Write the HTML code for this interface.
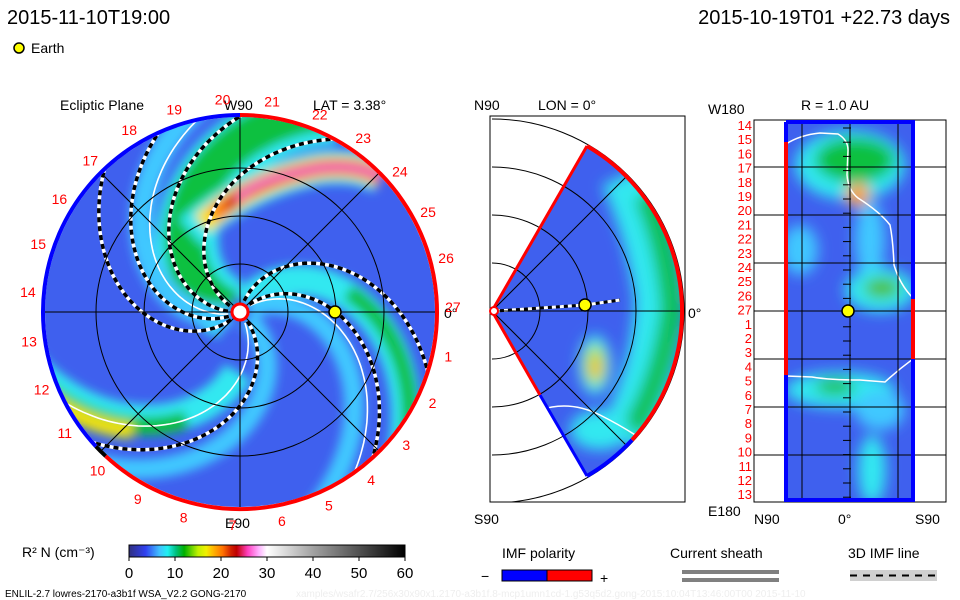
<!DOCTYPE html>
<html><head><meta charset="utf-8"><style>
body{margin:0;background:#fff;width:960px;height:600px;overflow:hidden;font-family:"Liberation Sans",sans-serif}
svg{display:block}
</style></head><body>
<svg id="s" width="960" height="600" viewBox="0 0 960 600" xmlns="http://www.w3.org/2000/svg">
<defs>
<filter id="bl" x="-30%" y="-30%" width="160%" height="160%"><feGaussianBlur stdDeviation="5"/></filter>
<filter id="bl2" x="-50%" y="-50%" width="200%" height="200%"><feGaussianBlur stdDeviation="7"/></filter>
<clipPath id="cc"><circle cx="240" cy="312" r="195"/></clipPath>
<clipPath id="wc"><path d="M492,311 L587,146 A191,191 0 0 1 587,476 Z"/></clipPath>
<clipPath id="mbox"><rect x="490" y="116" width="195" height="386"/></clipPath>
<clipPath id="rc"><rect x="786" y="122" width="127" height="378"/></clipPath>
<linearGradient id="cb" x1="0" x2="1" y1="0" y2="0">
<stop offset="0" stop-color="#303080"/><stop offset="0.06" stop-color="#3040f0"/><stop offset="0.11" stop-color="#40c0ff"/><stop offset="0.14" stop-color="#20f0f0"/><stop offset="0.17" stop-color="#00c080"/><stop offset="0.2" stop-color="#00b000"/><stop offset="0.25" stop-color="#c0f000"/><stop offset="0.28" stop-color="#f0f000"/><stop offset="0.3" stop-color="#ffc000"/><stop offset="0.34" stop-color="#ff7000"/><stop offset="0.37" stop-color="#d02000"/><stop offset="0.39" stop-color="#c00000"/><stop offset="0.43" stop-color="#ff40c0"/><stop offset="0.47" stop-color="#ffb0ff"/><stop offset="0.5" stop-color="#ffffff"/><stop offset="0.67" stop-color="#a0a0a0"/><stop offset="1" stop-color="#000000"/>
</linearGradient>
</defs>

<text x="7" y="24" font-size="20" fill="#000">2015-11-10T19:00</text>
<text x="950" y="24" font-size="20" fill="#000" text-anchor="end">2015-10-19T01 +22.73 days</text>
<circle cx="19" cy="48" r="5" fill="#ffff00" stroke="#000" stroke-width="1.5"/>
<text x="31" y="53" font-size="14">Earth</text>

<!-- LEFT PANEL -->
<text x="60" y="110" font-size="14">Ecliptic Plane</text>
<text x="313" y="110" font-size="14">LAT = 3.38°</text>
<text x="224" y="110" font-size="14">W90</text>
<text x="225" y="528" font-size="14">E90</text>
<text x="444" y="318" font-size="14">0°</text>
<g clip-path="url(#cc)">
<rect x="40" y="110" width="400" height="410" fill="#3f60ee"/>
<g id="bands" filter="url(#bl)"></g>
<g id="arms"></g>
</g>
<g id="grid"></g>
<g id="rim"></g>
<g id="lbls"></g>

<!-- MIDDLE PANEL -->
<rect x="490" y="116" width="195" height="386" fill="none" stroke="#000" stroke-width="1"/>
<text x="474" y="110" font-size="14">N90</text>
<text x="538" y="110" font-size="14">LON = 0°</text>
<text x="474" y="524" font-size="14">S90</text>
<text x="688" y="318" font-size="14">0°</text>
<g clip-path="url(#wc)">
<rect x="490" y="140" width="200" height="340" fill="#3f60ee"/>
<g filter="url(#bl2)">
<path d="M625,175 Q652,235 660,300 Q655,380 622,440" stroke="#30e8f0" stroke-width="50" fill="none"/>
<path d="M645,195 Q668,250 672,310 Q662,380 632,430" stroke="#10c050" stroke-width="22" fill="none"/>
<ellipse cx="595" cy="365" rx="16" ry="30" fill="#30e8f0"/>
<ellipse cx="595" cy="365" rx="10" ry="20" fill="#c0e020"/>
<ellipse cx="596" cy="368" rx="5" ry="10" fill="#ffb000"/>
<ellipse cx="600" cy="430" rx="30" ry="20" fill="#30e8f0"/>
</g>
<path d="M540,410 Q570,400 600,415 Q620,425 640,438" stroke="#fff" stroke-width="1.5" fill="none"/>
<path d="M496,311 L585,305 L620,300" stroke="#000" stroke-width="3" fill="none"/>
<path d="M496,311 L585,305 L620,300" stroke="#fff" stroke-width="3" stroke-dasharray="4 4" fill="none"/>
</g>
<g id="mgrid" clip-path="url(#mbox)"></g>
<path d="M587,146 A191,191 0 0 1 632,440" stroke="#f00" stroke-width="4" fill="none"/>
<path d="M632,440 A191,191 0 0 1 587,476" stroke="#00f" stroke-width="4" fill="none"/>
<path d="M492,311 L587,146" stroke="#f00" stroke-width="3" fill="none"/>
<path d="M492,311 L540,395" stroke="#f00" stroke-width="3" fill="none"/>
<path d="M540,395 L587,476" stroke="#00f" stroke-width="3" fill="none"/>
<circle cx="494" cy="311" r="4" fill="#fff" stroke="#f00" stroke-width="2"/>
<circle cx="585" cy="305" r="6" fill="#ffff00" stroke="#000" stroke-width="1.5"/>

<!-- RIGHT PANEL -->
<text x="801" y="110" font-size="14">R = 1.0 AU</text>
<text x="708" y="114" font-size="14">W180</text>
<text x="708" y="516" font-size="14">E180</text>
<text x="754" y="524" font-size="14">N90</text>
<text x="838" y="524" font-size="14">0°</text>
<text x="915" y="524" font-size="14">S90</text>
<rect x="754" y="120" width="192" height="382" fill="none" stroke="#000" stroke-width="1"/>
<g clip-path="url(#rc)">
<rect x="780" y="115" width="140" height="390" fill="#3f60ee"/>
<g filter="url(#bl2)">
<ellipse cx="850" cy="165" rx="55" ry="35" fill="#30e8f0"/>
<ellipse cx="855" cy="160" rx="40" ry="22" fill="#10c040"/>
<ellipse cx="858" cy="195" rx="12" ry="12" fill="#ffa000"/>
<ellipse cx="870" cy="240" rx="15" ry="40" fill="#40c8ff"/>
<ellipse cx="880" cy="290" rx="35" ry="22" fill="#30e8f0"/>
<ellipse cx="882" cy="288" rx="18" ry="10" fill="#50c020"/>
<ellipse cx="840" cy="390" rx="55" ry="18" fill="#30e8f0"/>
<ellipse cx="835" cy="387" rx="20" ry="8" fill="#20c040"/>
<ellipse cx="880" cy="410" rx="25" ry="20" fill="#40c8ff"/>
<ellipse cx="872" cy="470" rx="14" ry="35" fill="#30e8f0"/>
<ellipse cx="800" cy="250" rx="18" ry="25" fill="#40c8ff"/>
</g>
<path d="M786,144 Q800,135 820,133 L838,134 Q848,140 848,150 L847,175 Q848,190 858,198 Q880,212 890,225 Q893,240 894,265 Q900,285 913,298" stroke="#fff" stroke-width="1.5" fill="none"/>
<path d="M786,376 L812,377 Q830,380 860,380 L885,382 Q898,370 913,359" stroke="#fff" stroke-width="1.5" fill="none"/>
</g>
<g id="rgrid"></g>
<path d="M786,122 L786,142" stroke="#00f" stroke-width="4"/>
<path d="M786,142 L786,375" stroke="#f00" stroke-width="4"/>
<path d="M786,375 L786,500 L913,500 L913,359" stroke="#00f" stroke-width="4" fill="none"/>
<path d="M913,359 L913,299" stroke="#f00" stroke-width="4"/>
<path d="M913,299 L913,122 L786,122" stroke="#00f" stroke-width="4" fill="none"/>
<circle cx="848" cy="311" r="6" fill="#ffff00" stroke="#000" stroke-width="1.5"/>
<g id="rlbls"></g>

<!-- COLORBAR -->
<text x="22" y="557" font-size="14">R² N (cm⁻³)</text>
<rect x="129" y="545" width="276" height="12" fill="url(#cb)" stroke="#000" stroke-width="1"/>
<g id="cbt"></g>
<text x="5" y="597" font-size="10" fill="#000">ENLIL-2.7 lowres-2170-a3b1f WSA_V2.2 GONG-2170</text>
<text x="296" y="597" font-size="10" fill="#eee">xamples/wsafr2.7/256x30x90x1.2170-a3b1f.8-mcp1umn1cd-1.g53q5d2.gong-2015:10:04T13:46:00T00    2015-11-10</text>

<!-- LEGENDS -->
<text x="502" y="558" font-size="14">IMF polarity</text>
<text x="481" y="581" font-size="14">−</text>
<rect x="502" y="570" width="45" height="11" fill="#00f" stroke="#000" stroke-width="1"/>
<rect x="547" y="570" width="45" height="11" fill="#f00" stroke="#000" stroke-width="1"/>
<text x="600" y="583" font-size="14">+</text>
<text x="670" y="558" font-size="14">Current sheath</text>
<rect x="682" y="570" width="97" height="4" fill="#808080"/>
<rect x="682" y="578" width="97" height="4" fill="#808080"/>
<text x="848" y="558" font-size="14">3D IMF line</text>
<rect x="850" y="570" width="87" height="11" fill="#d0d0d0"/>
<line x1="850" y1="575.5" x2="937" y2="575.5" stroke="#000" stroke-width="2" stroke-dasharray="7 6"/>
</svg>
<script>
const NS="http://www.w3.org/2000/svg";
const colorTicks=[0,10,20,30,40,50,60];
const dayLabels=[14,15,16,17,18,19,20,21,22,23,24,25,26,27,1,2,3,4,5,6,7,8,9,10,11,12,13];
const armPhases=[-45,-75,-154,-182,-207,-226,-314];
const sheetPhases=[-195,-300,-38];
const cx=240,cy=312,R=195,K=0.47;
function el(t,a,p){const e=document.createElementNS(NS,t);for(const k in a)e.setAttribute(k,a[k]);p.appendChild(e);return e;}
function spiral(p0,r0,r1){let d="";for(let r=r0;r<=r1;r+=3){const a=(p0+K*r)*Math.PI/180;d+=(d?"L":"M")+(cx+r*Math.cos(a)).toFixed(1)+","+(cy+r*Math.sin(a)).toFixed(1);}return d;}
const bands=document.getElementById('bands'),arms=document.getElementById('arms');
// density bands [phase, colour, width, rStart]
[[-60,"#30e8f0",30,10],[-62,"#10c040",16,110],[-30,"#40c8ff",20,10],[-168,"#30e8f0",62,10],[-170,"#10c040",40,10],[-200,"#40c8ff",24,10],[-296,"#30e8f0",30,60],[-300,"#10c040",18,120],[-325,"#40c8ff",20,10]].forEach(b=>{
 const p=el('path',{d:spiral(b[0],b[3],220),stroke:b[1],'stroke-width':b[2],fill:'none'},bands);
 
 
});
// CME arc
[["#30e8f0",34],["#ffe000",22],["#ff8000",16],["#d02020",11],["#ff80e0",6]].forEach((c,i)=>{
 const p=el('path',{d:`M${190+i*12},${232-i*8} Q250,180 320,168 Q360,164 382,178`,stroke:c[0],'stroke-width':c[1],fill:'none'},bands);
 
 
});
[["#c0e020",18],["#ffe000",8]].forEach(c=>{
 const p=el('path',{d:spiral(-303,160,220),stroke:c[0],'stroke-width':c[1],fill:'none'},bands);
 
 
});
sheetPhases.forEach(p0=>{
 const p=el('path',{d:spiral(p0,12,215),stroke:'#fff','stroke-width':1.6,fill:'none'},arms);
 
 
});
armPhases.forEach(p0=>{
 const g=el('g',{},arms);
 
 
 el('path',{d:spiral(p0,12,205),stroke:'#fff','stroke-width':3.5,fill:'none'},g);
 el('path',{d:spiral(p0,12,205),stroke:'#000','stroke-width':3.5,'stroke-dasharray':'5 4',fill:'none'},g);
});
// grid
const grid=document.getElementById('grid');
[48,96,144].forEach(r=>el('circle',{cx:cx,cy:cy,r:r,fill:'none',stroke:'#000','stroke-width':1},grid));
el('line',{x1:cx-R,y1:cy,x2:cx+R,y2:cy,stroke:'#000'},grid);
el('line',{x1:cx,y1:cy-R,x2:cx,y2:cy+R,stroke:'#000'},grid);
const d45=R*Math.SQRT1_2;
el('line',{x1:cx-d45,y1:cy-d45,x2:cx+d45,y2:cy+d45,stroke:'#000'},grid);
el('line',{x1:cx-d45,y1:cy+d45,x2:cx+d45,y2:cy-d45,stroke:'#000'},grid);
// rim
const rim=document.getElementById('rim');
function arc(a0,a1,col,name){const r=197,p=(a)=>[cx+r*Math.cos(a*Math.PI/180),cy+r*Math.sin(a*Math.PI/180)];const s=p(a0),e=p(a1);const e2=el('path',{d:`M${s[0]},${s[1]} A${r},${r} 0 ${(a1-a0)>180?1:0} 1 ${e[0]},${e[1]}`,stroke:col,'stroke-width':4,fill:'none'},rim);

}
arc(-90,133,'#f00','rim-positive-polarity');
arc(133,137,'#000','rim-boundary');
arc(137,270,'#00f','rim-negative-polarity');
el('circle',{cx:cx,cy:cy,r:8,fill:'#fff',stroke:'#f00','stroke-width':3},rim);
const earth=el('circle',{cx:335,cy:312,r:6,fill:'#ffff00',stroke:'#000','stroke-width':1.5},rim);


// day labels around circle
const lbls=document.getElementById('lbls');
for(let n=1;n<=27;n++){const a=(12+(n-1)*13.333)*Math.PI/180;const r=213;
 const t=el('text',{x:(cx+r*Math.cos(a)).toFixed(1),y:(cy+r*Math.sin(a)+5).toFixed(1),'font-size':14,fill:'#f00','text-anchor':'middle'},lbls);t.textContent=n;
 
 }
// middle grid arcs
const mg=document.getElementById('mgrid');
[48,96,144,192].forEach(r=>el('path',{d:`M492,${311-r} A${r},${r} 0 0 1 492,${311+r}`,fill:'none',stroke:'#000'},mg));
el('line',{x1:492,y1:311,x2:685,y2:311,stroke:'#000'},mg);
el('line',{x1:492,y1:311,x2:626,y2:177,stroke:'#000'},mg);
el('line',{x1:492,y1:311,x2:626,y2:445,stroke:'#000'},mg);
// right grid
const rg=document.getElementById('rgrid');
[802,850,898].forEach(x=>el('line',{x1:x,y1:120,x2:x,y2:502,stroke:'#000'},rg));
[167,215,263,311,359,407,455].forEach(y=>el('line',{x1:754,y1:y,x2:946,y2:y,stroke:'#000'},rg));
for(let y=128;y<500;y+=14.2)el('line',{x1:843,y1:y,x2:851,y2:y,stroke:'#000'},rg);
const rl=document.getElementById('rlbls');
dayLabels.forEach((n,i)=>{const t=el('text',{x:752,y:(130+i*14.2).toFixed(1),'font-size':13,fill:'#f00','text-anchor':'end'},rl);t.textContent=n;
 
 });
// colorbar ticks
const cbt=document.getElementById('cbt');
colorTicks.forEach(v=>{const x=129+(v/60)*276;
 el('line',{x1:x,y1:557,x2:x,y2:561,stroke:'#000'},cbt);
 const t=el('text',{x:x,y:578,'font-size':15,'text-anchor':'middle'},cbt);t.textContent=v;
 
 });
</script>
</body></html>
